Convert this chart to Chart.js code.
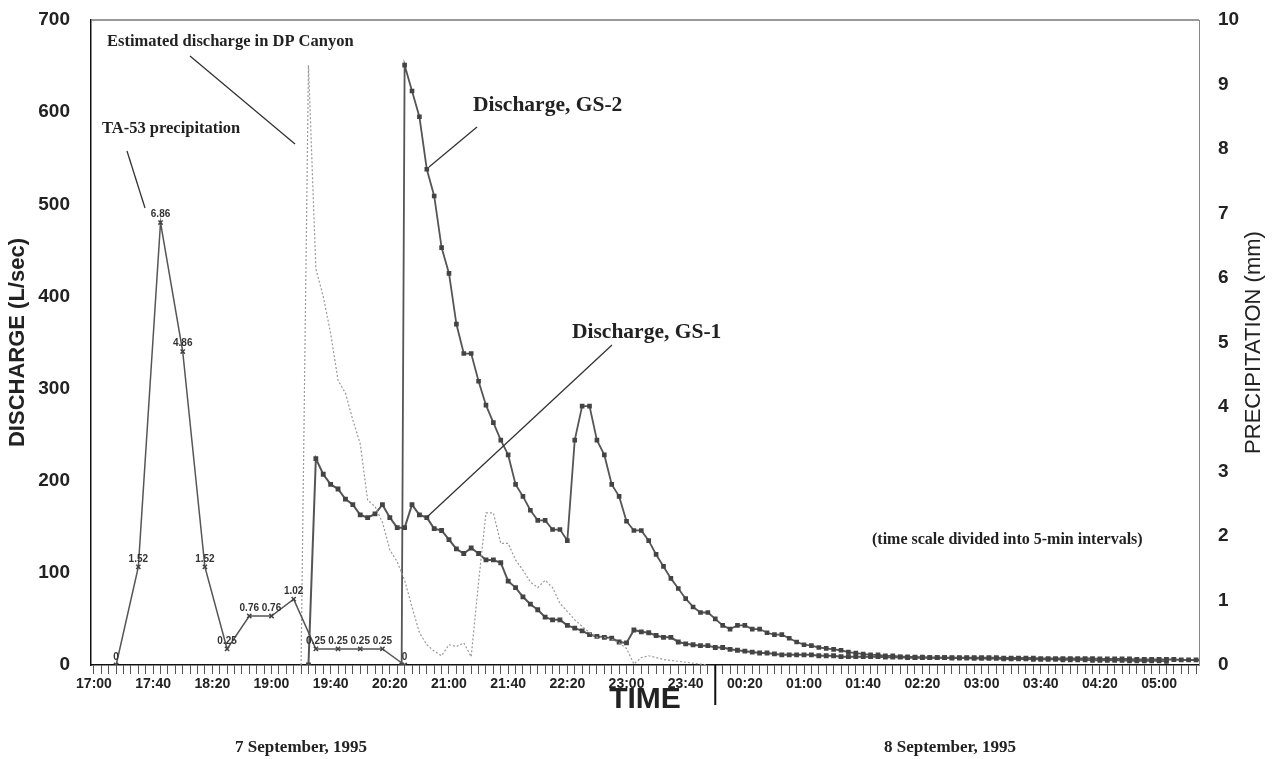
<!DOCTYPE html>
<html>
<head>
<meta charset="utf-8">
<script src="https://cdn.jsdelivr.net/npm/chart.js@4.4.1/dist/chart.umd.min.js"></script>
<style>
  html, body { margin: 0; padding: 0; background: #fff; }
</style>
</head>
<body>
<canvas id="grafico" width="1281" height="759"></canvas>
<script>
// eje de tiempo: intervalos de 5 min desde las 17:00 del 7 sep
const ejeInicio = '17:00'
const ejeFin = '05:27'
const medianoche = '00:00'

// TA-53 precipitation (mm), cada 15 min
const precipHoras = ['17:15', '17:30', '17:45', '18:00', '18:15', '18:30', '18:45',
                     '19:00', '19:15', '19:30', '19:45', '20:00', '20:15', '20:30']
const precipMm = [0, 1.52, 6.86, 4.86, 1.52, 0.25, 0.76, 0.76, 1.02, 0.25, 0.25, 0.25, 0.25, 0]

// Discharge GS-1 (L/sec), cada 5 min desde 19:25
const gs1Inicio = '19:25'
const gs1 = [0, 224, 207, 196, 191, 180, 174, 163, 160, 164, 174, 160, 149, 149, 174, 163,
             160, 148, 146, 136, 126, 121, 127, 121, 114, 114, 111, 91, 84, 74, 66, 60,
             52, 49, 49, 43, 40, 37, 33, 31, 30, 29, 25, 24, 38, 36, 35, 32, 30, 30,
             25, 23, 22, 21, 21, 19, 19, 17, 16, 15, 14, 13, 13, 12, 11, 11, 11, 11,
             11, 10, 10, 10, 9, 9, 9, 9, 9, 9, 8.5, 8.5, 8.5, 8, 8, 8, 8, 8,
             8, 8, 8, 8, 8, 8, 8, 8, 7.5, 7.5, 7.5, 7.5, 7.5, 7, 7, 7, 7, 7,
             7, 7, 7, 6.5, 6.5, 6.5, 6.5, 6.5, 6, 6, 6, 6, 6, 6, 5.5, 5.5, 5.5, 5]

// Discharge GS-2 (L/sec), cada 5 min desde 20:30; ultimo cero antes de la crecida
const gs2Cero = '20:28'
const gs2Inicio = '20:30'
const gs2 = [651, 623, 595, 538, 509, 453, 425, 370, 338, 338, 308, 282, 263, 244, 228, 196,
             183, 168, 157, 157, 147, 147, 135, 244, 281, 281, 244, 228, 196, 183, 156, 146,
             146, 135, 120, 107, 94, 83, 72, 63, 57, 57, 50, 43, 39, 43, 43, 39, 39, 35,
             33, 33, 29, 25, 22, 21, 19, 18, 17, 16, 14, 13, 12, 11, 11, 10, 10, 9,
             9, 8.5, 8.5, 8, 8, 8, 7.5, 7.5, 7.5, 7, 7, 7, 7, 6.5, 6.5, 6.5, 6.5, 6,
             6, 6, 6, 5.5, 5.5, 5.5, 5.5, 5, 5, 5, 5, 5, 4.5, 4.5, 4.5, 4.5, 4.5, 4]

// Estimated discharge in DP Canyon (L/sec), cada 5 min desde 19:20
const dpInicio = '19:20'
const dp = [0, 651, 430, 400, 360, 309, 295, 266, 240, 179, 172, 155, 125, 112, 92, 63,
            35, 22, 15, 10, 22, 20, 24, 9, 90, 165, 165, 132, 132, 114, 103, 90,
            84, 92, 84, 67, 58, 49, 42, 35, 30, 30, 28, 24, 18, 1, 8, 10, 8, 6,
            5, 4, 3, 2, 1, 0]

const minutos = (hhmm) => {
    let [h, m] = hhmm.split(':').map(Number)
    if (h < 17) h += 24
    return (h - 17) * 60 + m
}

const etiqueta = (v) => {
    const h = (17 + Math.floor(v / 60)) % 24
    const m = v % 60
    return String(h).padStart(2, '0') + ':' + String(m).padStart(2, '0')
}

const serie = (inicio, valores) => valores.map((y, i) => ({x: minutos(inicio) + 5 * i, y}))

const sans = 'Liberation Sans, Arial, sans-serif'
const serif = 'Liberation Serif, Times New Roman, serif'

// textos, lineas guia, bordes y fechas
const notas = {
    id: 'notas',
    afterDatasetsDraw(chart) {
        const {ctx, scales: {x}, chartArea: {left, right, top, bottom}} = chart

        ctx.save()
        // borde superior
        ctx.strokeStyle = '#777'
        ctx.lineWidth = 1.5
        ctx.beginPath()
        ctx.moveTo(left, top)
        ctx.lineTo(right, top)
        ctx.stroke()

        // etiquetas de precipitacion
        const meta = chart.getDatasetMeta(0)
        ctx.fillStyle = '#333'
        ctx.font = 'bold 10px ' + sans
        ctx.textAlign = 'center'
        ctx.textBaseline = 'bottom'
        meta.data.forEach((p, i) => {
            ctx.fillText(String(precipMm[i]), p.x, p.y - 3)
        })

        // lineas guia
        ctx.strokeStyle = '#333'
        ctx.lineWidth = 1.3
        const guias = [
            [190, 56, 295, 144],
            [127, 151, 145, 208],
            [477, 127, 429, 167],
            [427, 517, 612, 345]
        ]
        guias.forEach(([x1, y1, x2, y2]) => {
            ctx.beginPath()
            ctx.moveTo(x1, y1)
            ctx.lineTo(x2, y2)
            ctx.stroke()
        })

        ctx.fillStyle = '#222'
        ctx.textAlign = 'left'
        ctx.textBaseline = 'middle'
        ctx.font = 'bold 16.5px ' + serif
        ctx.fillText('Estimated discharge in DP Canyon', 107, 42)
        ctx.fillText('TA-53 precipitation', 102, 129)
        ctx.font = 'bold 21.5px ' + serif
        ctx.fillText('Discharge, GS-2', 473, 105)
        ctx.fillText('Discharge, GS-1', 572, 332)
        ctx.font = 'bold 16px ' + serif
        ctx.fillText('(time scale divided into 5-min intervals)', 872, 540)

        // separador de dias
        const xm = x.getPixelForValue(minutos(medianoche))
        ctx.strokeStyle = '#111'
        ctx.lineWidth = 2
        ctx.beginPath()
        ctx.moveTo(xm, bottom)
        ctx.lineTo(xm, bottom + 40)
        ctx.stroke()

        ctx.textAlign = 'center'
        ctx.font = 'bold 30px ' + sans
        ctx.fillText('TIME', (left + right) / 2, 700)
        ctx.font = 'bold 17px ' + serif
        ctx.fillText('7 September, 1995', 301, 748)
        ctx.fillText('8 September, 1995', 950, 748)

        // titulo eje derecho
        ctx.translate(1254, (top + bottom) / 2)
        ctx.rotate(-Math.PI / 2)
        ctx.font = '22px ' + sans
        ctx.fillText('PRECIPITATION (mm)', 0, 0)
        ctx.restore()
    }
}

const grafico = () => {
    const gs2Datos = [{x: minutos(gs2Cero), y: 0}].concat(serie(gs2Inicio, gs2))

    const data = {
        datasets: [{
            label: 'TA-53 precipitation',
            data: precipHoras.map((h, i) => ({x: minutos(h), y: precipMm[i]})),
            yAxisID: 'yR',
            borderColor: '#555',
            borderWidth: 1.5,
            pointStyle: 'crossRot',
            pointRadius: 3,
            pointBorderWidth: 1.5,
            pointBorderColor: '#444'
        }, {
            label: 'Estimated discharge in DP Canyon',
            data: serie(dpInicio, dp),
            yAxisID: 'y',
            borderColor: '#999',
            borderWidth: 1.2,
            borderDash: [2, 2],
            pointRadius: 0
        }, {
            label: 'Discharge, GS-1',
            data: serie(gs1Inicio, gs1),
            yAxisID: 'y',
            borderColor: '#555',
            borderWidth: 2,
            pointStyle: 'rect',
            pointRadius: 2,
            backgroundColor: '#444',
            pointBorderColor: '#444'
        }, {
            label: 'Discharge, GS-2',
            data: gs2Datos,
            yAxisID: 'y',
            borderColor: '#555',
            borderWidth: 1.8,
            pointStyle: 'rect',
            pointRadius: 2,
            backgroundColor: '#444',
            pointBorderColor: '#444'
        }]
    }

    // ancho fijo de ejes, sin relleno extra por las etiquetas
    const ejeFijo = (ancho) => (s) => {
        s.width = ancho
        s.paddingTop = 0
        s.paddingBottom = 0
    }

    const options = {
        responsive: false,
        animation: false,
        layout: {padding: {top: 20, left: 0, right: 0, bottom: 0}},
        plugins: {legend: {display: false}, tooltip: {enabled: false}},
        scales: {
            x: {
                type: 'linear',
                min: minutos(ejeInicio) - 2,
                max: minutos(ejeFin),
                afterFit: (s) => { s.height = 94 },
                ticks: {
                    stepSize: 5,
                    includeBounds: false,
                    autoSkip: false,
                    maxRotation: 0,
                    padding: 2,
                    color: '#222',
                    font: {family: sans, size: 14, weight: 'bold'},
                    callback: (v) => (Math.round(v) % 40 === 0 && v >= 0) ? etiqueta(Math.round(v)) : ''
                },
                grid: {drawOnChartArea: false, tickLength: 9, color: '#555', lineWidth: 1},
                border: {color: '#111', width: 1.5}
            },
            y: {
                position: 'left',
                min: 0,
                max: 700,
                afterFit: ejeFijo(91),
                ticks: {
                    stepSize: 100,
                    padding: 13,
                    color: '#222',
                    font: {family: sans, size: 19, weight: 'bold'}
                },
                grid: {display: false},
                border: {color: '#111', width: 1.5},
                title: {
                    display: true,
                    text: 'DISCHARGE (L/sec)',
                    color: '#222',
                    padding: {top: 5, bottom: 0},
                    font: {family: sans, size: 22, weight: 'bold'}
                }
            },
            yR: {
                position: 'right',
                min: 0,
                max: 10,
                afterFit: ejeFijo(82),
                ticks: {
                    stepSize: 1,
                    padding: 11,
                    color: '#222',
                    font: {family: sans, size: 19, weight: 'bold'}
                },
                grid: {display: false},
                border: {color: '#888', width: 1}
            }
        }
    }

    new Chart(document.getElementById('grafico'), {type: 'line', data, options, plugins: [notas]})
}

grafico()
</script>
</body>
</html>
